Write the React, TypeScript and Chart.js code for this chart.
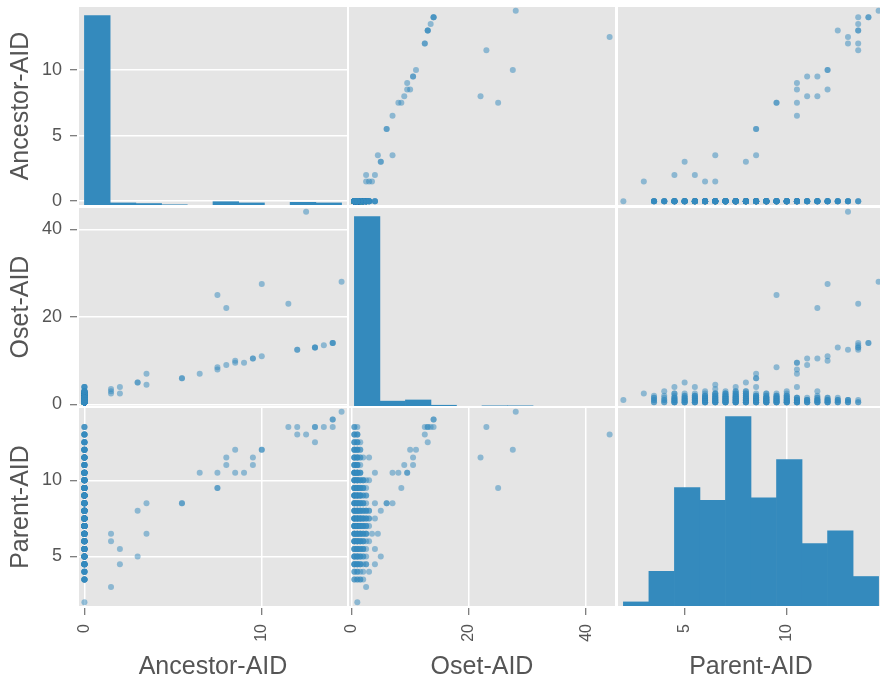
import React, { useEffect, useRef } from "react";
import { Chart, registerables } from "chart.js";

Chart.register(...registerables);

// ---------- data ----------
const variableNames = ["Ancestor-AID", "Oset-AID", "Parent-AID"];

const ancestorAid = [1.5, 1.5, 1.5, 2, 2, 3, 3, 3.5, 3.5, 5.5, 5.5, 6.5, 7.5, 7.5, 7.5, 8, 8, 8.5, 8.5, 9, 9.5, 9.5, 10, 10, 11.5, 12, 12, 12.5, 13, 13, 13, 13.5, 14, 14, 14, 14.5];
const osetAid = [3.5, 3, 2.5, 4, 2.5, 5, 5, 7, 4.5, 6, 6, 7, 8, 8.5, 25, 9, 22, 10, 9.5, 9.5, 10.5, 10.5, 11, 27.5, 23, 12.5, 12.5, 44, 13, 13, 13, 13.5, 14, 14, 14, 28];
const parentAid = [6.5, 6, 3, 5.5, 4.5, 8, 5, 8.5, 6.5, 8.5, 8.5, 10.5, 10.5, 9.5, 9.5, 11, 11.5, 12, 10.5, 10.5, 11.5, 11, 12, 12, 13.5, 13.5, 13, 13, 13.5, 13.5, 12.5, 13.5, 14, 14, 13.5, 14.5];

// observations with Ancestor-AID = 0: number of observations per Parent-AID level (rows) and Oset-AID level (columns)
const zeroParentLevels = [2, 3.5, 4, 4.5, 5, 5.5, 6, 6.5, 7, 7.5, 8, 8.5, 9, 9.5, 10, 10.5, 11, 11.5, 12, 12.5, 13, 13.5];
const zeroOsetLevels = [0.5, 1, 1.5, 2, 2.5, 3, 4];
const zeroCounts = [
  [0, 1, 0, 0, 0, 0, 0],
  [2, 2, 2, 1, 0, 0, 0],
  [2, 2, 1, 1, 0, 1, 0],
  [4, 4, 3, 1, 1, 0, 1],
  [4, 4, 3, 2, 1, 0, 0],
  [4, 4, 3, 3, 1, 0, 0],
  [5, 5, 4, 3, 1, 0, 0],
  [5, 5, 4, 3, 3, 0, 0],
  [6, 6, 5, 4, 3, 1, 0],
  [6, 6, 5, 4, 3, 2, 1],
  [5, 5, 4, 3, 3, 2, 0],
  [5, 5, 4, 3, 1, 0, 1],
  [6, 6, 5, 2, 2, 0, 0],
  [5, 5, 4, 3, 1, 0, 0],
  [5, 5, 3, 3, 1, 1, 0],
  [6, 6, 3, 0, 0, 0, 1],
  [4, 4, 1, 0, 0, 0, 0],
  [4, 4, 2, 1, 0, 1, 0],
  [4, 4, 2, 0, 0, 0, 0],
  [3, 3, 1, 0, 0, 0, 0],
  [3, 3, 0, 0, 0, 0, 0],
  [2, 1, 0, 0, 0, 0, 0],
];

// diagonal histograms (10 bins each)
const ancestorBinEdges = [0, 1.45, 2.9, 4.35, 5.8, 7.25, 8.7, 10.15, 11.6, 13.05, 14.5];
const ancestorCounts = [311, 5, 4, 2, 1, 7, 5, 1, 6, 5];
const osetBinEdges = [0.5, 4.85, 9.2, 13.55, 17.9, 22.25, 26.6, 30.95, 35.3, 39.65, 44];
const osetCounts = [325, 10, 12, 3, 1, 2, 2, 0, 0, 1];
const parentBinEdges = [2, 3.25, 4.5, 5.75, 7, 8.25, 9.5, 10.75, 12, 13.25, 14.5];
const parentCounts = [2, 14, 47, 42, 75, 43, 58, 25, 30, 12];

// axis limits and ticks
const ancestorRange = [-0.3625, 14.8625];
const osetRange = [-0.5875, 45.0875];
const parentRange = [1.6875, 14.8125];
const ancestorTicksX = [0, 10];
const ancestorTicksY = [0, 5, 10];
const osetTicks = [0, 20, 40];
const parentTicks = [5, 10];

// ---------- layout ----------
const CANVAS_W = 890;
const CANVAS_H = 683;
const colEdges = [[78, 348], [348, 616], [617, 885]];
const rowEdges = [[6, 206], [207, 407], [407, 607]];
const Y_AXIS_W = 78;
const X_AXIS_H = CANVAS_H - 607;

const BLUE = "#348ABD";
const POINT = "rgba(52,138,189,0.5)";
const TEXT = "#555555";
const tickFontY = { family: "'Liberation Sans', Arial, sans-serif", size: 18 };
const tickFontX = { family: "'Liberation Sans', Arial, sans-serif", size: 16 };
const titleFont = { family: "'Liberation Sans', Arial, sans-serif", size: 25, lineHeight: 1 };

const ranges = [ancestorRange, osetRange, parentRange];
const xTickSets = [ancestorTicksX, osetTicks, parentTicks];
const yTickSets = [ancestorTicksY, osetTicks, parentTicks];
const histEdges = [ancestorBinEdges, osetBinEdges, parentBinEdges];
const histCounts = [ancestorCounts, osetCounts, parentCounts];

function buildObservations(): number[][] {
  const obs: number[][] = [];
  ancestorAid.forEach((a, i) => obs.push([a, osetAid[i], parentAid[i]]));
  zeroParentLevels.forEach((p, i) => {
    zeroOsetLevels.forEach((o, j) => {
      for (let k = 0; k < zeroCounts[i][j]; k++) obs.push([0, o, p]);
    });
  });
  return obs;
}
const observations = buildObservations();

const panelPlugin = {
  id: "panelBg",
  beforeDraw(chart: any) {
    const { ctx, chartArea: a } = chart;
    ctx.save();
    ctx.fillStyle = "#E5E5E5";
    ctx.fillRect(a.left, a.top, a.right - a.left, a.bottom - a.top);
    ctx.restore();
  },
  afterDraw(chart: any) {
    const { ctx, chartArea: a } = chart;
    ctx.save();
    ctx.strokeStyle = "#FFFFFF";
    ctx.lineWidth = 2;
    ctx.strokeRect(a.left, a.top, a.right - a.left, a.bottom - a.top);
    ctx.restore();
  },
};

function gridOpts() {
  return {
    color: "#FFFFFF",
    lineWidth: 1.5,
    drawTicks: true,
    tickLength: 8,
    tickColor: TEXT,
    tickWidth: 1,
    offset: false,
  };
}

function buildConfig(r: number, c: number): any {
  const showX = r === 2;
  const showY = c === 0;
  const [left, right] = colEdges[c];
  const [top, bottom] = rowEdges[r];
  const padding = {
    left: left - (showY ? Y_AXIS_W : 0),
    right: CANVAS_W - right,
    top,
    bottom: CANVAS_H - bottom - (showX ? X_AXIS_H : 0),
  };

  const xScale: any = {
    type: "linear",
    position: "bottom",
    display: showX,
    min: ranges[c][0],
    max: ranges[c][1],
    offset: false,
    afterBuildTicks: (s: any) => {
      s.ticks = xTickSets[c].map((v) => ({ value: v }));
    },
    afterFit: (s: any) => {
      if (showX) {
        s.height = X_AXIS_H;
        s.paddingLeft = 0;
        s.paddingRight = 0;
      }
    },
    grid: gridOpts(),
    border: { display: false },
    ticks: { color: TEXT, font: tickFontX, minRotation: 90, maxRotation: 90, autoSkip: false, padding: 9 },
    title: { display: true, text: variableNames[c], color: TEXT, font: titleFont, padding: { top: 0, bottom: 3 } },
  };

  const yScale: any = {
    type: "linear",
    position: "left",
    display: showY,
    min: ranges[r][0],
    max: ranges[r][1],
    afterBuildTicks: (s: any) => {
      s.ticks = yTickSets[r].map((v) => ({ value: v }));
    },
    afterFit: (s: any) => {
      if (showY) {
        s.width = Y_AXIS_W;
        s.paddingTop = 0;
        s.paddingBottom = 0;
      }
    },
    grid: gridOpts(),
    border: { display: false },
    ticks: { color: TEXT, font: tickFontY, padding: 8 },
    title: { display: true, text: variableNames[r], color: TEXT, font: titleFont, padding: { top: 9, bottom: 0 } },
  };

  const common = {
    responsive: false,
    animation: false,
    events: [],
    layout: { padding },
    plugins: { legend: { display: false }, tooltip: { enabled: false } },
  };

  if (r === c) {
    const edges = histEdges[c];
    const counts = histCounts[c];
    const maxCount = Math.max(...counts);
    return {
      type: "bar",
      data: {
        datasets: [
          {
            data: counts.map((n, i) => ({ x: (edges[i] + edges[i + 1]) / 2, y: n })),
            xAxisID: "x",
            yAxisID: "yCount",
            backgroundColor: BLUE,
            borderWidth: 0,
            barPercentage: 1,
            categoryPercentage: 1,
          },
        ],
      },
      options: {
        ...common,
        scales: {
          x: xScale,
          y: yScale,
          yCount: { type: "linear", position: "left", display: false, min: 0, max: maxCount * 1.05 },
        },
      },
      plugins: [panelPlugin],
    };
  }

  return {
    type: "scatter",
    data: {
      datasets: [
        {
          data: observations.map((o) => ({ x: o[c], y: o[r] })),
          backgroundColor: POINT,
          borderWidth: 0,
          pointRadius: 3,
          pointHoverRadius: 3,
        },
      ],
    },
    options: { ...common, scales: { x: xScale, y: yScale } },
    plugins: [panelPlugin],
  };
}

function Panel({ r, c }: { r: number; c: number }) {
  const ref = useRef<HTMLCanvasElement>(null);
  useEffect(() => {
    const chart = new Chart(ref.current as HTMLCanvasElement, buildConfig(r, c));
    return () => chart.destroy();
  }, [r, c]);
  return (
    <canvas
      ref={ref}
      width={CANVAS_W}
      height={CANVAS_H}
      style={{ position: "absolute", left: 0, top: 0, width: CANVAS_W, height: CANVAS_H }}
    />
  );
}

export default function App() {
  const cells: { r: number; c: number }[] = [];
  for (let r = 0; r < 3; r++) for (let c = 0; c < 3; c++) cells.push({ r, c });
  return (
    <div
      style={{
        position: "absolute",
        left: 0,
        top: 0,
        width: 880,
        height: 683,
        overflow: "hidden",
        background: "#FFFFFF",
      }}
    >
      {cells.map(({ r, c }) => (
        <Panel key={`${r}-${c}`} r={r} c={c} />
      ))}
    </div>
  );
}
